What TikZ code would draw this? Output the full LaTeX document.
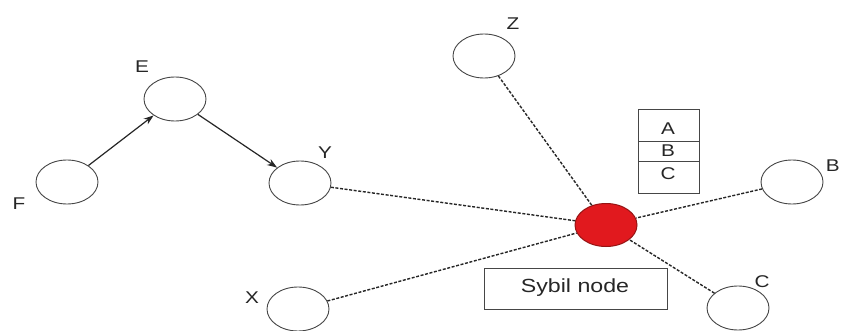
\documentclass[tikz,border=0pt]{standalone}
\usepackage{fontspec}
\setmainfont{Liberation Sans}[FakeStretch=1.22]
\usetikzlibrary{shapes.geometric,arrows.meta}
\definecolor{edgegray}{RGB}{70,70,70}
\definecolor{sybred}{RGB}{225,25,30}
\definecolor{sybborder}{RGB}{150,20,20}
\tikzset{
  peer/.style={ellipse,draw=edgegray,line width=0.9pt,fill=white,minimum width=62pt,minimum height=44pt,inner sep=0pt},
  sybil/.style={ellipse,draw=sybborder,line width=1pt,fill=sybred,minimum width=62pt,minimum height=43pt,inner sep=0pt},
  lbl/.style={font=\fontsize{17}{17}\selectfont,text=black!85,inner sep=0pt},
  link/.style={draw=black!85,line width=1.4pt,dash pattern=on 3pt off 1.6pt},
  arr/.style={draw=black!85,line width=1.2pt,-{Stealth[length=10pt,width=7pt]}},
  boxed/.style={draw=edgegray,line width=0.8pt,fill=white,inner sep=0pt}
}
\begin{document}
\begin{tikzpicture}[x=1pt,y=1pt]
\clip (0,0) rectangle (842,-331);
\fill[white] (0,0) rectangle (842,-331);
% peers
\node[peer] (F) at (67,-182) {};
\node[peer] (E) at (175,-99) {};
\node[peer] (Y) at (300,-183) {};
\node[peer] (Z) at (484,-56) {};
\node[peer] (B) at (792,-182) {};
\node[peer] (X) at (298,-309) {};
\node[peer] (C) at (738,-308) {};
\node[sybil] (S) at (606,-225) {};
% labels
\node[lbl] (lF) at (19,-204) {F};
\node[lbl] (lE) at (142,-67) {E};
\node[lbl] (lY) at (325,-153) {Y};
\node[lbl] (lZ) at (513,-24) {Z};
\node[lbl,anchor=east] (lB) at (840,-166) {B};
\node[lbl] (lX) at (252,-298) {X};
\node[lbl] (lC) at (762,-282) {C};
% arrows
\draw[arr] (F) -- (E);
\draw[arr] (E) -- (Y);
% dashed links
\draw[link] (Y) -- (S);
\draw[link] (Z) -- (S);
\draw[link] (B) -- (S);
\draw[link] (X) -- (S);
\draw[link] (C) -- (S);
% routing table
\node[boxed,minimum width=61pt,minimum height=84pt] (tbl) at (668.5,-151) {};
\coordinate (t1l) at (638,-141);
\coordinate (t1r) at (699,-141);
\coordinate (t2l) at (638,-161);
\coordinate (t2r) at (699,-161);
\draw[edgegray,line width=0.8pt] (t1l) -- (t1r);
\draw[edgegray,line width=0.8pt] (t2l) -- (t2r);
\node[lbl] (tA) at (668,-129) {A};
\node[lbl] (tB) at (668,-151) {B};
\node[lbl] (tC) at (668,-174) {C};
% sybil label
\node[boxed,minimum width=183pt,minimum height=41pt] (sl) at (575.5,-288.5) {};
\node[font=\fontsize{19}{19}\selectfont,text=black!85,inner sep=0pt] (slt) at (575,-288) {Sybil node};
\end{tikzpicture}
\end{document}
